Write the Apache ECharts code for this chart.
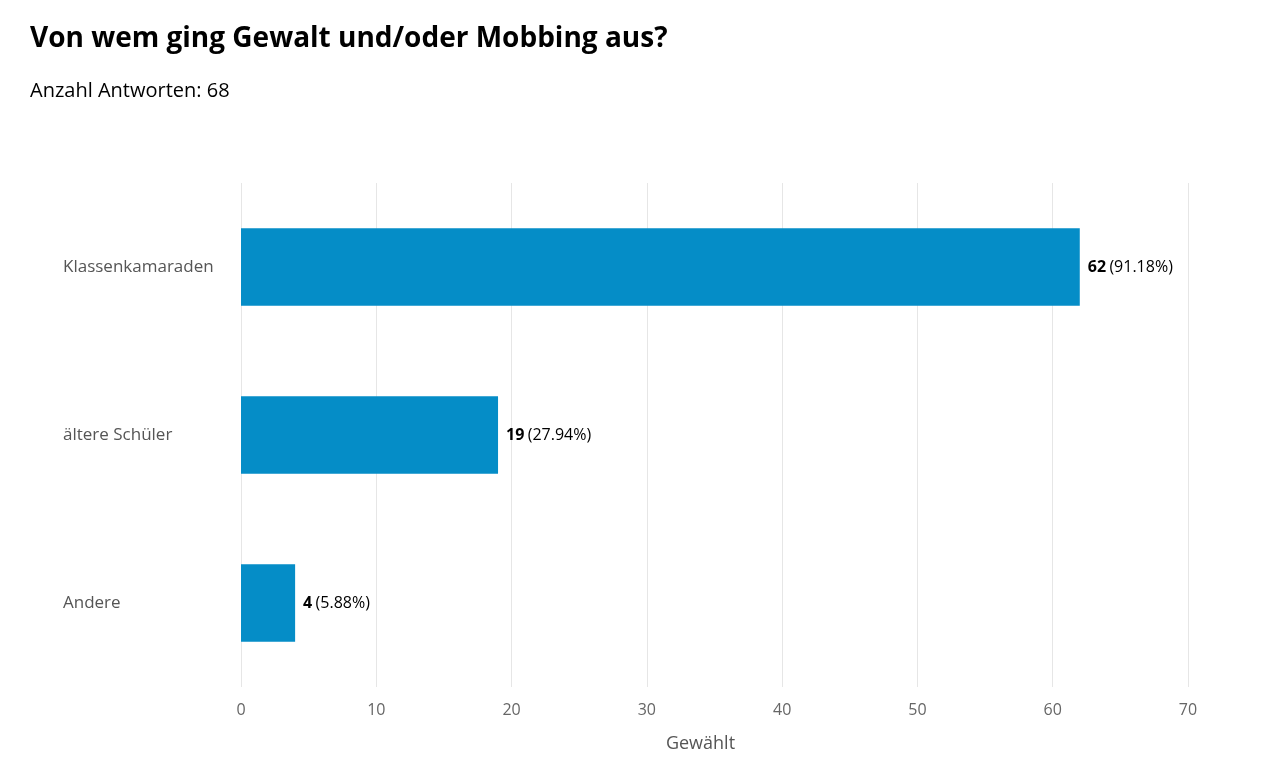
<!DOCTYPE html>
<html lang="de">
<head>
    <meta charset="UTF-8">
    <title>Von wem ging Gewalt und/oder Mobbing aus?</title>
    <script src="https://cdn.jsdelivr.net/npm/echarts@6/dist/echarts.min.js"></script>
</head>
<body style="margin:0;background:#fff;">
<div id="main" style="width:1263px;height:769px;"></div>
<script type="text/javascript">
    var categories = ['Klassenkamaraden', 'ältere Schüler', 'Andere'];
    var counts = [62, 19, 4];
    var percents = ['91.18%', '27.94%', '5.88%'];
    var xTicks = [0, 10, 20, 30, 40, 50, 60, 70];

    var font = '"Open Sans", "Noto Sans", sans-serif';

    var myChart = echarts.init(document.getElementById('main'));

    var data = [];
    for (var i = 0; i < counts.length; i++) {
        data.push({value: counts[i], pct: percents[i]});
    }

    var option = {
        backgroundColor: '#fff',
        animation: false,
        title: [{
            text: 'Von wem ging Gewalt und/oder Mobbing aus?',
            left: 25,
            top: 20,
            textStyle: {fontFamily: font, fontSize: 28, fontWeight: 'bold', color: '#000'}
        }, {
            text: 'Anzahl Antworten: 68',
            left: 25,
            top: 76,
            textStyle: {fontFamily: font, fontSize: 20, fontWeight: 'normal', color: '#000'}
        }],
        grid: {left: 241, right: 75, top: 183, bottom: 82},
        xAxis: {
            type: 'value',
            min: xTicks[0],
            max: xTicks[xTicks.length - 1],
            interval: 10,
            name: 'Gewählt',
            nameLocation: 'middle',
            nameGap: 48,
            nameTextStyle: {fontFamily: font, fontSize: 18, color: '#555', padding: [0, 28, 0, 0]},
            axisLine: {show: false},
            axisTick: {show: false},
            axisLabel: {fontFamily: font, fontSize: 16, color: '#666', margin: 15},
            splitLine: {lineStyle: {color: '#e6e6e6', width: 1}}
        },
        yAxis: {
            type: 'category',
            inverse: true,
            data: categories,
            axisLine: {show: false},
            axisTick: {show: false},
            axisLabel: {fontFamily: font, fontSize: 17, color: '#555', align: 'left', margin: 178}
        },
        series: [{
            type: 'bar',
            data: data,
            barWidth: '46%',
            itemStyle: {color: '#058dc7'},
            label: {
                show: true,
                position: 'right',
                distance: 8,
                formatter: function (p) {
                    return '{b|' + p.value + '} {n|(' + p.data.pct + ')}';
                },
                rich: {
                    b: {fontFamily: font, fontSize: 16, fontWeight: 'bold', color: '#000'},
                    n: {fontFamily: font, fontSize: 16, color: '#000'}
                }
            }
        }]
    };

    myChart.setOption(option);
</script>
</body>
</html>
